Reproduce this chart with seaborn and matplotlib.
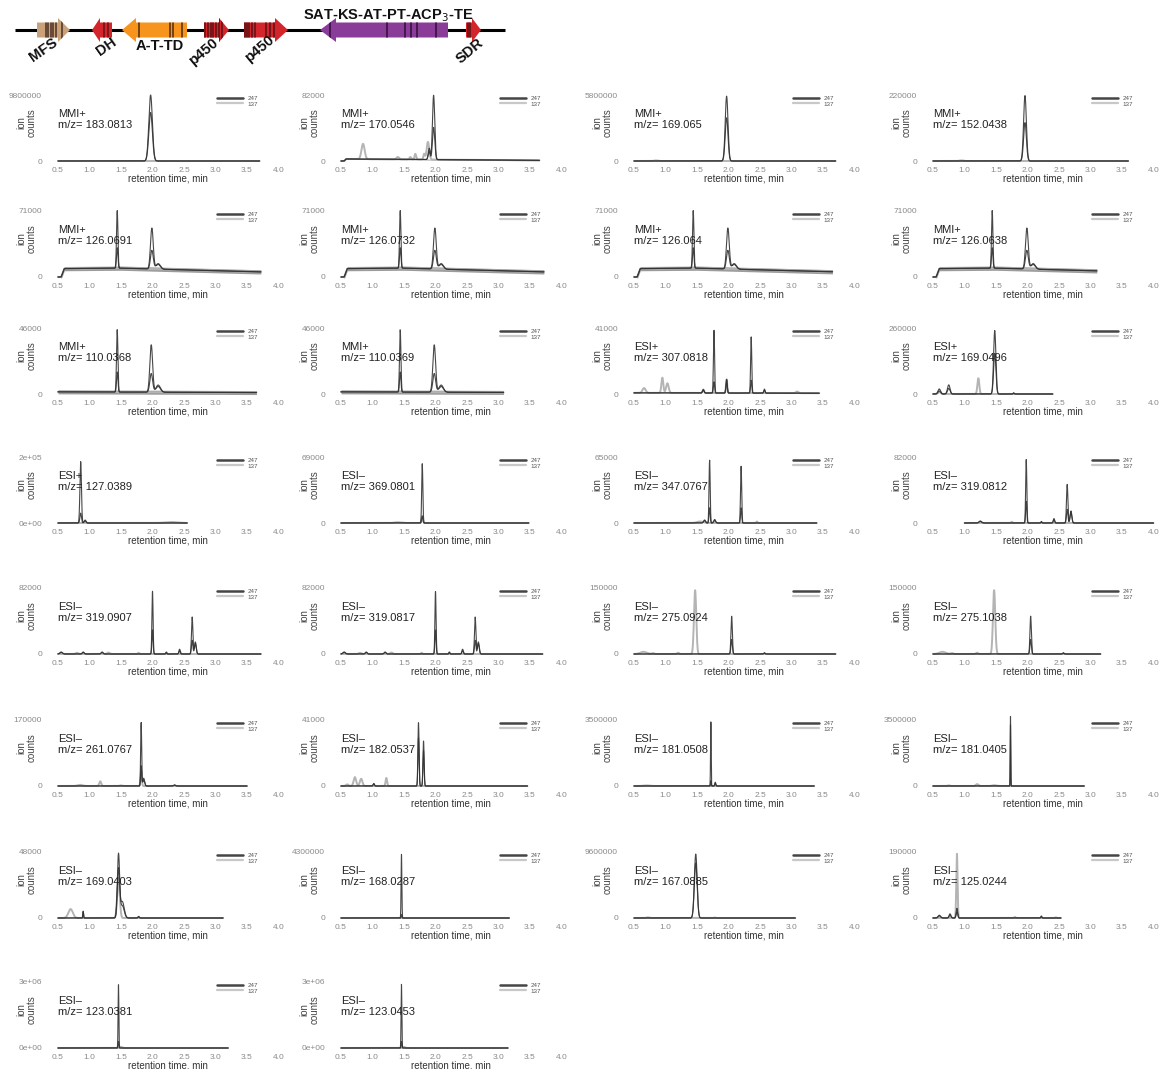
import numpy as np
import matplotlib
matplotlib.use("Agg")
import matplotlib.pyplot as plt
from matplotlib.patches import Polygon
from matplotlib.lines import Line2D
import seaborn as sns

# ---------------------------------------------------------------------------
# Extracted-ion chromatograms (one entry per panel, read row by row)
# ---------------------------------------------------------------------------
MODES = ["MMI+", "MMI+", "MMI+", "MMI+",
         "MMI+", "MMI+", "MMI+", "MMI+",
         "MMI+", "MMI+", "ESI+", "ESI+",
         "ESI+", "ESI–", "ESI–", "ESI–",
         "ESI–", "ESI–", "ESI–", "ESI–",
         "ESI–", "ESI–", "ESI–", "ESI–",
         "ESI–", "ESI–", "ESI–", "ESI–",
         "ESI–", "ESI–"]

MZ = ["183.0813", "170.0546", "169.065", "152.0438",
      "126.0691", "126.0732", "126.064", "126.0638",
      "110.0368", "110.0369", "307.0818", "169.0496",
      "127.0389", "369.0801", "347.0767", "319.0812",
      "319.0907", "319.0817", "275.0924", "275.1038",
      "261.0767", "182.0537", "181.0508", "181.0405",
      "169.0403", "168.0287", "167.0885", "125.0244",
      "123.0381", "123.0453"]

YTOP = [9800000, 82000, 5800000, 220000,
        71000, 71000, 71000, 71000,
        46000, 46000, 41000, 260000,
        200000, 69000, 65000, 82000,
        82000, 82000, 150000, 150000,
        170000, 41000, 3500000, 3500000,
        48000, 4300000, 9600000, 190000,
        3000000, 3000000]

YTOP_LABEL = ["9800000", "82000", "5800000", "220000",
              "71000", "71000", "71000", "71000",
              "46000", "46000", "41000", "260000",
              "2e+05", "69000", "65000", "82000",
              "82000", "82000", "150000", "150000",
              "170000", "41000", "3500000", "3500000",
              "48000", "4300000", "9600000", "190000",
              "3e+06", "3e+06"]

YZERO_LABEL = ["0"] * 12 + ["0e+00"] + ["0"] * 15 + ["0e+00", "0e+00"]

RT_RANGE = [(0.5, 3.70), (0.5, 3.65), (0.5, 3.70), (0.5, 3.60),
            (0.5, 3.72), (0.5, 3.72), (0.5, 3.65), (0.5, 3.10),
            (0.5, 3.65), (0.5, 3.08), (0.5, 3.44), (0.5, 2.40),
            (0.5, 2.55), (0.5, 3.48), (0.5, 3.40), (1.0, 4.00),
            (0.5, 3.72), (0.5, 3.70), (0.5, 3.70), (0.5, 3.16),
            (0.5, 3.50), (0.5, 3.46), (0.5, 3.36), (0.5, 2.90),
            (0.5, 3.12), (0.5, 3.17), (0.5, 3.06), (0.5, 2.53),
            (0.5, 3.20), (0.5, 3.15)]

# baseline knots (rt, counts) and baseline noise amplitude
BASE_126 = [(0.5, 0), (0.55, 0), (0.60, 9000), (1.5, 9500), (3.72, 5500)]
BASE_110 = [(0.5, 1500), (3.65, 1000)]
BASELINE = [[], [(0.5, 0), (0.55, 0), (0.58, 2500), (1.5, 2000), (3.65, 800)], [], [],
            BASE_126, BASE_126, BASE_126, BASE_126,
            BASE_110, BASE_110, [(0.5, 700), (3.44, 500)], [],
            [], [], [], [],
            [], [], [], [],
            [], [], [], [],
            [], [], [], [],
            [], []]
NOISE = [0, 500, 0, 0,
         2300, 2300, 2300, 2300,
         1400, 1400, 0, 0] + [0] * 18

# strain 247 peaks: (rt, sigma, height replicate A, height replicate B)
P247_126 = [(1.44, 0.011, 62000, 22000), (1.99, 0.022, 44000, 20000), (2.09, 0.035, 5000, 6000)]
P247_110 = [(1.44, 0.011, 43500, 14000), (1.98, 0.022, 33000, 13000), (2.09, 0.035, 4000, 5000)]
P247_319 = [(2.00, 0.009, 78000, 30000), (2.63, 0.011, 46000, 17000), (2.68, 0.014, 15000, 13000),
            (2.43, 0.011, 6000, 4000), (2.22, 0.008, 2500, 2000), (0.55, 0.02, 2500, 2000),
            (0.90, 0.015, 2500, 2000), (1.20, 0.015, 2500, 2000)]
P247_275 = [(2.05, 0.011, 86000, 33000), (2.57, 0.01, 3000, 2000)]
P247_123 = [(1.46, 0.006, 2900000, 300000)]
PEAKS_247 = [
    [(1.97, 0.028, 9800000, 7200000)],
    [(1.97, 0.018, 80000, 40000), (1.90, 0.015, 14000, 10000)],
    [(1.97, 0.022, 5700000, 3800000)],
    [(1.96, 0.022, 218000, 128000)],
    P247_126, P247_126, P247_126, P247_126,
    P247_110, P247_110,
    [(1.77, 0.009, 39000, 7000), (1.97, 0.01, 8500, 8000), (2.36, 0.009, 35000, 8000),
     (2.57, 0.01, 2500, 2000), (1.60, 0.012, 2000, 2000)],
    [(0.60, 0.02, 20000, 12000), (0.75, 0.02, 36000, 22000), (1.48, 0.018, 250000, 160000),
     (1.78, 0.008, 5000, 3000)],
    [(0.86, 0.012, 186000, 30000), (0.93, 0.015, 6000, 9000)],
    [(1.79, 0.009, 62000, 7500)],
    [(1.70, 0.009, 62000, 15000), (2.20, 0.009, 56000, 15000), (1.62, 0.015, 2500, 3000),
     (1.78, 0.015, 2500, 3500)],
    [(1.98, 0.009, 79000, 27000), (2.63, 0.011, 48000, 17000), (2.69, 0.014, 15000, 13000),
     (2.42, 0.011, 5500, 4000), (2.22, 0.008, 2000, 1500), (1.25, 0.02, 2000, 2500)],
    P247_319, P247_319,
    P247_275, P247_275,
    [(1.82, 0.008, 164000, 52000), (1.86, 0.015, 15000, 20000), (2.35, 0.015, 3000, 2000)],
    [(1.73, 0.009, 39500, 30000), (1.81, 0.009, 28000, 22000), (1.02, 0.01, 1500, 1500)],
    [(1.72, 0.005, 3400000, 280000), (1.79, 0.008, 200000, 150000)],
    [(1.73, 0.004, 3750000, 3300000)],
    [(1.46, 0.018, 46000, 35000), (1.52, 0.03, 9000, 12000), (0.90, 0.006, 5000, 4500),
     (1.78, 0.01, 1200, 1000)],
    [(1.46, 0.006, 4150000, 220000)],
    [(1.48, 0.022, 9300000, 8000000)],
    [(0.88, 0.012, 28000, 18000), (0.60, 0.02, 8000, 6000), (0.77, 0.015, 12000, 8000),
     (2.22, 0.008, 6000, 4000)],
    P247_123, P247_123,
]

# strain 137 peaks: (rt, sigma, height)
P137_319 = [(0.80, 0.02, 1500), (1.30, 0.02, 1800), (1.78, 0.01, 1600)]
P137_275 = [(1.47, 0.018, 145000), (0.65, 0.05, 5000), (0.80, 0.02, 2000), (1.20, 0.015, 3000)]
P137_123 = [(1.50, 0.02, 50000)]
PEAKS_137 = [
    [],
    [(0.85, 0.025, 19000), (1.40, 0.02, 3000), (1.60, 0.015, 3000), (1.68, 0.012, 7000),
     (1.82, 0.012, 7000), (1.88, 0.02, 22000)],
    [(0.85, 0.03, 50000)],
    [(0.95, 0.03, 2000)],
    [], [], [], [],
    [], [],
    [(0.66, 0.025, 3000), (0.95, 0.015, 9500), (1.03, 0.02, 6000), (1.60, 0.012, 2200),
     (1.97, 0.01, 8500), (3.09, 0.02, 1000)],
    [(0.60, 0.02, 8000), (1.22, 0.015, 62000)],
    [(2.30, 0.1, 3000)],
    [(1.79, 0.012, 6000), (1.40, 0.05, 800)],
    [(1.55, 0.05, 1500), (2.45, 0.01, 1500)],
    [(1.75, 0.01, 1500)],
    P137_319, P137_319,
    P137_275, P137_275,
    [(1.17, 0.015, 12000), (0.85, 0.04, 3000), (1.50, 0.02, 1500), (1.82, 0.01, 40000)],
    [(0.60, 0.02, 1000), (0.72, 0.02, 5500), (0.82, 0.02, 4500), (1.22, 0.012, 5000)],
    [(0.70, 0.05, 30000)],
    [(0.75, 0.02, 30000), (1.20, 0.02, 100000), (1.47, 0.03, 40000)],
    [(0.70, 0.035, 6500), (1.46, 0.02, 29000)],
    [],
    [(0.72, 0.02, 100000), (1.78, 0.01, 80000)],
    [(0.88, 0.01, 185000), (1.80, 0.01, 3000), (2.45, 0.01, 2000)],
    P137_123, P137_123,
]

STRAINS = ["247", "137"]
XTICKS = [0.5, 1.0, 1.5, 2.0, 2.5, 3.0, 3.5, 4.0]

# ---------------------------------------------------------------------------
# Gene cluster (kb along the contig)
# ---------------------------------------------------------------------------
CONTIG = (1.5, 50.5)
GENE_NAMES = ["MFS", "DH", "A-T-TD", "p450", "p450", "SAT-KS-AT-PT-ACP$_3$-TE", "SDR"]
GENE_START = [3.7, 9.2, 12.2, 20.4, 24.4, 32.0, 46.6]
GENE_END = [7.0, 11.2, 18.7, 22.9, 28.8, 44.8, 48.1]
GENE_STRAND = [1, -1, -1, 1, 1, -1, 1]
GENE_COLORS = ["#c9a27c", "#d3262c", "#f7941e", "#d3262c", "#d3262c", "#8a3d98", "#d3262c"]
GENE_STRIPE_COLORS = ["#5e4330", "#7a1518", "#6b3c10", "#6f1416", "#6f1416", "#3f1548", "#6f1416"]
GENE_STRIPES = [[4.6, 4.8, 5.1, 5.3, 5.6, 6.2],
                [10.4, 10.8],
                [13.9, 17.0, 17.3, 18.2],
                [20.5, 20.8, 21.1, 21.3, 21.6, 21.9, 22.2],
                [24.5, 24.7, 24.9, 25.2, 25.5, 26.6, 27.0, 27.4],
                [33.0, 38.7, 40.5, 41.1, 41.7, 43.6],
                [46.8, 47.0]]

# ---------------------------------------------------------------------------
# Figure
# ---------------------------------------------------------------------------
sns.set_style("white")
plt.rcParams["font.family"] = ["Liberation Sans", "DejaVu Sans"]

W, H = 1160, 1069
fig = plt.figure(figsize=(W / 100, H / 100), dpi=100)

DARK = "#333333"
LIGHT = "#b4b4b4"
TICK_GREY = "#8a8a8a"

COL_X0 = [58, 341, 634, 933]          # pixel of rt = 0.5
ROW_ZERO = [161, 277, 394, 523, 654, 786, 918, 1048]
PX_PER_MIN = 63.0
DATA_H = 66.0
XLIM = (0.27, 4.23)
YPAD = 0.08


def px_axes(left, top, width, height):
    return fig.add_axes([left / W, 1 - (top + height) / H, width / W, height / H])


def build_trace(rt, peaks, col, base):
    if base:
        bx, by = zip(*base)
        y = np.interp(rt, bx, by)
    else:
        y = np.zeros_like(rt)
    for pk in peaks:
        y = y + pk[col] * np.exp(-0.5 * ((rt - pk[0]) / pk[1]) ** 2)
    return y


for i in range(len(MODES)):
    r, c = divmod(i, 4)
    x0 = COL_X0[c]
    zero = ROW_ZERO[r]
    left = x0 - (0.5 - XLIM[0]) * PX_PER_MIN
    width = (XLIM[1] - XLIM[0]) * PX_PER_MIN
    height = DATA_H * (1 + 2 * YPAD)
    top = zero + DATA_H * YPAD - height
    ax = px_axes(left, top, width, height)

    ytop = YTOP[i]
    start, end = RT_RANGE[i]
    rt = np.linspace(start, end, 1600)
    base = BASELINE[i]

    # strain 137 trace
    y137 = build_trace(rt, PEAKS_137[i], 2, base)
    sns.lineplot(x=rt, y=y137, ax=ax, color=LIGHT, lw=1.4, estimator=None, sort=False)

    # baseline noise band
    if NOISE[i] > 0:
        bx, by = zip(*base)
        b = np.interp(rt, bx, by)
        on = b > 0
        ax.fill_between(rt[on], b[on] - NOISE[i], b[on] + NOISE[i], color="#5a5a5a",
                        alpha=0.6, lw=0)

    # strain 247 replicate traces
    for col in (2, 3):
        y247 = build_trace(rt, PEAKS_247[i], col, base)
        sns.lineplot(x=rt, y=y247, ax=ax, color=DARK, lw=0.8, alpha=0.9,
                     estimator=None, sort=False)

    ax.set_xlim(*XLIM)
    ax.set_ylim(-YPAD * ytop, (1 + YPAD) * ytop)
    ax.set_xticks(XTICKS)
    ax.set_xticklabels([f"{v:.1f}" for v in XTICKS])
    ax.set_yticks([0, ytop])
    ax.set_yticklabels([YZERO_LABEL[i], YTOP_LABEL[i]])
    ax.tick_params(axis="both", length=0, labelsize=6, labelcolor=TICK_GREY)
    ax.tick_params(axis="x", pad=0.5)
    ax.tick_params(axis="y", pad=1.0)
    sns.despine(ax=ax, left=True, bottom=True)
    ax.set_facecolor("none")

    ax.set_xlabel("retention time, min", fontsize=7, color="#333333")
    ax.xaxis.set_label_coords(0.5, -0.09)
    ax.set_ylabel("")
    ax.text(-0.068, 0.565, "ion\ncounts", rotation=90, ha="center", va="center",
            transform=ax.transAxes, fontsize=7, color="#444444", linespacing=1.0,
            multialignment="center")

    ax.text(0.5, 0.785 * ytop, f"{MODES[i]}\nm/z= {MZ[i]}", ha="left", va="top",
            fontsize=8, color="#222222", linespacing=1.05)

    handles = [Line2D([], [], color="#454545", lw=1.8), Line2D([], [], color="#c8c8c8", lw=1.6)]
    leg = ax.legend(handles, STRAINS, loc="upper left", bbox_to_anchor=(0.694, 0.92),
                    frameon=False, fontsize=4.5, handlelength=4.2, handletextpad=0.8,
                    labelspacing=0.0, borderpad=0, borderaxespad=0)
    for t in leg.get_texts():
        t.set_color("#555555")

# ---------------------------------------------------------------------------
# Gene cluster track
# ---------------------------------------------------------------------------
gax = px_axes(0, 0, W, 70)
gax.set_xlim(0, W / 10)
gax.set_ylim(70, 0)
gax.axis("off")

YC, BODY, HEAD = 30, 7.5, 12.0
gax.plot(CONTIG, [YC, YC], color="black", lw=2.2, solid_capstyle="butt", zorder=1)

HEAD_LEN = [1.2, 0.8, 1.4, 1.0, 1.3, 1.6, 0.9]
for k in range(len(GENE_NAMES)):
    s, e = GENE_START[k], GENE_END[k]
    hl = HEAD_LEN[k]
    if GENE_STRAND[k] > 0:
        pts = [(s, YC - BODY), (e - hl, YC - BODY), (e - hl, YC - HEAD), (e, YC),
               (e - hl, YC + HEAD), (e - hl, YC + BODY), (s, YC + BODY)]
    else:
        pts = [(e, YC - BODY), (s + hl, YC - BODY), (s + hl, YC - HEAD), (s, YC),
               (s + hl, YC + HEAD), (s + hl, YC + BODY), (e, YC + BODY)]
    poly = Polygon(pts, closed=True, facecolor=GENE_COLORS[k], edgecolor="none", zorder=2)
    gax.add_patch(poly)
    for sx in GENE_STRIPES[k]:
        ln, = gax.plot([sx, sx], [YC - HEAD, YC + HEAD], color=GENE_STRIPE_COLORS[k],
                       lw=1.3, zorder=3)
        ln.set_clip_path(poly)

label_style = dict(fontsize=10.5, fontweight="bold", color="#111111", ha="center", va="center")
gax.text(4.3, 50, GENE_NAMES[0], rotation=35, **label_style)
gax.text(10.6, 47, GENE_NAMES[1], rotation=35, **label_style)
gax.text(16.0, 46, GENE_NAMES[2], **label_style)
gax.text(20.3, 52, GENE_NAMES[3], rotation=40, **label_style)
gax.text(25.9, 49, GENE_NAMES[4], rotation=40, **label_style)
gax.text(38.8, 16, GENE_NAMES[5], **label_style)
gax.text(47.0, 51, GENE_NAMES[6], rotation=40, **label_style)

fig.savefig("out.png", dpi=100, facecolor="white")
